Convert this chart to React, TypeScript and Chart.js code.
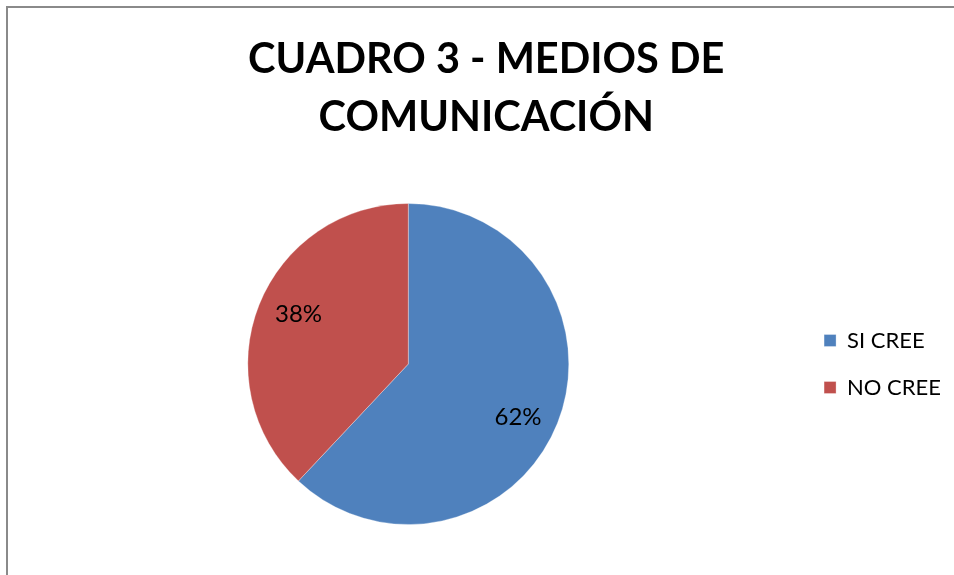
import React, { useEffect, useRef } from "react";
import { Chart, registerables } from "chart.js";

Chart.register(...registerables);

const titleLines = ["CUADRO 3 - MEDIOS DE", "COMUNICACIÓN"];
const categories = ["SI CREE", "NO CREE"];
const values = [62, 38];
const colors = ["#4F81BD", "#C0504D"];

const pieLabels = {
  id: "pieLabels",
  afterDatasetsDraw(chart: any) {
    const ctx = chart.ctx;
    const meta = chart.getDatasetMeta(0);
    const data = chart.data.datasets[0].data as number[];
    const total = data.reduce((a, b) => a + b, 0);
    ctx.save();
    ctx.font = "24px Lato";
    ctx.fillStyle = "#000";
    ctx.textAlign = "center";
    ctx.textBaseline = "middle";
    meta.data.forEach((arc: any, i: number) => {
      const { x, y, startAngle, endAngle, outerRadius } = arc.getProps(
        ["x", "y", "startAngle", "endAngle", "outerRadius"],
        true
      );
      const mid = (startAngle + endAngle) / 2 + 0.061;
      const r = outerRadius * 0.755;
      ctx.fillText(
        Math.round((data[i] / total) * 100) + "%",
        x + Math.cos(mid) * r,
        y + Math.sin(mid) * r + 2
      );
    });
    ctx.restore();
  },
};

const titleShift = {
  id: "titleShift",
  afterLayout(chart: any) {
    if (chart.titleBlock) {
      chart.titleBlock.left += 2;
      chart.titleBlock.right += 2;
    }
  },
};

export default function App() {
  const ref = useRef<HTMLCanvasElement>(null);
  useEffect(() => {
    document.body.style.margin = "0";
    document.body.style.overflow = "hidden";
    const chart = new Chart(ref.current!, {
      type: "pie",
      data: {
        labels: categories,
        datasets: [
          {
            data: values,
            backgroundColor: colors,
            borderWidth: 1,
            borderColor: "rgba(255,255,255,0.3)",
          },
        ],
      },
      options: {
        responsive: false,
        animation: false,
        layout: { padding: { left: 28.5, right: 0, top: 0, bottom: 50 } },
        plugins: {
          title: {
            display: true,
            text: titleLines,
            color: "#000",
            font: { family: "Lato", size: 41.5, weight: "bold", lineHeight: 58 / 41.5 },
            padding: { top: 30.5, bottom: 56.5 },
          },
          legend: {
            position: "right",
            fullSize: false,
            labels: {
              boxWidth: 12,
              boxHeight: 12,
              padding: 25,
              color: "#000",
              font: { family: "Lato", size: 22 },
            },
          },
          tooltip: { enabled: false },
        },
      },
      plugins: [pieLabels, titleShift],
    });
    return () => chart.destroy();
  }, []);
  return (
    <div style={{ position: "relative", width: 954, height: 575, overflow: "hidden", background: "#fff" }}>
      <div
        style={{
          position: "absolute",
          left: 6,
          top: 6,
          width: 948,
          height: 569,
          boxSizing: "border-box",
          borderLeft: "2px solid #8a8a8a",
          borderTop: "2px solid #8a8a8a",
        }}
      />
      <canvas
        ref={ref}
        width={962}
        height={575}
        style={{ position: "absolute", left: -11.5, top: 0 }}
      />
    </div>
  );
}
